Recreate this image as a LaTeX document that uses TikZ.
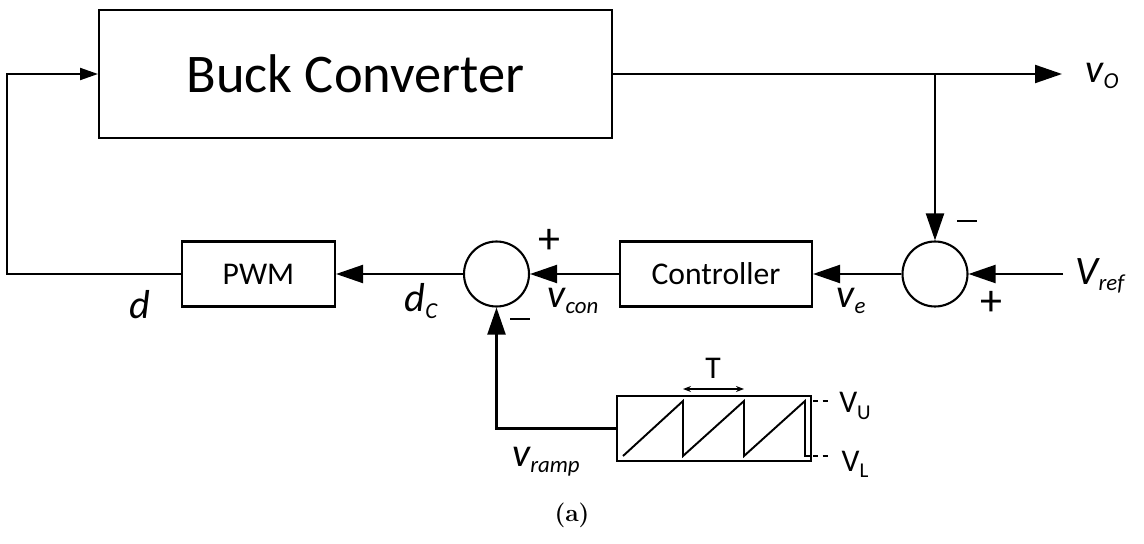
\documentclass[tikz,border=0pt]{standalone}
\usepackage{fontspec}
\newfontfamily\calibri{Carlito}
\usetikzlibrary{arrows.meta,positioning}
\newcommand{\lsub}[2][13]{\raisebox{-3.5pt}{\fontsize{#1}{#1}\selectfont #2}}

\begin{document}
\begin{tikzpicture}[
    x=0.02cm, y=-0.02cm,
    line width=1.2pt,
    box/.style={draw,minimum height=1.3cm,inner sep=0pt,font=\calibri\fontsize{18}{22}\selectfont},
    sumnode/.style={draw,circle,minimum size=1.3cm,inner sep=0pt},
    lbl/.style={font=\calibri\itshape\fontsize{23}{26}\selectfont,inner sep=0pt},
    sign/.style={font=\calibri\fontsize{25}{28}\selectfont,inner sep=0pt},
    level/.style={font=\calibri\fontsize{18}{20}\selectfont,inner sep=0pt},
    arrow/.style={-{Triangle[length=0.54cm,width=0.36cm]}},
    arrowsmall/.style={-{Triangle[length=0.36cm,width=0.24cm]}}
  ]
    \useasboundingbox (0,0) rectangle (1144,544);
    % blocks
    \node[box,minimum width=10.26cm,minimum height=2.56cm,font=\calibri\fontsize{31}{36}\selectfont] (buck) at (355.5,74) {Buck Converter};
    \node[box,minimum width=3.06cm] (pwm) at (258.5,274) {PWM};
    \node[sumnode] (sumc) at (496.5,274) {};
    \node[box,minimum width=3.84cm] (ctrl) at (716,274) {Controller};
    \node[sumnode] (sume) at (935,274) {};
    \node[box,minimum width=3.88cm] (ramp) at (714,428.5) {};
    \coordinate (vout) at (1062,74);
    \coordinate (vref) at (1063,274);
    % connections
    \draw[arrow] (buck.east) -- (vout);
    \draw[arrow] (sume |- buck.east) -- (sume.north);
    \draw[arrow] (vref) -- (sume.east);
    \draw[arrow] (sume.west) -- (ctrl.east);
    \draw[arrow] (ctrl.west) -- (sumc.east);
    \draw[arrow] (sumc.west) -- (pwm.east);
    \draw[arrow] (ramp.west) -| (sumc.south);
    \draw[arrowsmall] (pwm.west) -- ++(-174,0) |- (buck.west);
    % sawtooth
    \draw[line width=1.1pt] (623,456) -- (683,401) -- (683,456) -- (744,401) -- (744,456) -- (805,401) -- (805,456) -- (811,456);
    \draw[line width=0.9pt,dash pattern=on 3pt off 2.5pt] (813,401) -- (832,401) (813,456) -- (832,456);
    \draw[line width=0.8pt,{Stealth[length=1.6mm]}-{Stealth[length=1.6mm]}] (683,389) -- (744,389);
    % labels
    \node[lbl] at (1102,76) {v\lsub{O}};
    \node[lbl] at (1100,276) {V\lsub{ref}};
    \node[lbl] at (851,301) {v\lsub{e}};
    \node[lbl] at (573,301) {v\lsub{con}};
    \node[lbl] at (421,301) {d\lsub{C}};
    \node[lbl] at (140,305) {d};
    \node[lbl] at (546,462) {v\lsub{ramp}};
    \node[sign] at (549,241) {+};
    \node[sign] at (520,319) {\rule{11pt}{1.2pt}};
    \node[sign] at (967,221) {\rule{11pt}{1.2pt}};
    \node[sign] at (991,303) {+};
    \node[level] at (713,368) {T};
    \node[level] at (855,406) {V\lsub[12]{U}};
    \node[level] at (855,464) {V\lsub[12]{L}};
    \node[font=\bfseries\fontsize{14}{16}\selectfont] at (572,515) {(a)};
\end{tikzpicture}
\end{document}
